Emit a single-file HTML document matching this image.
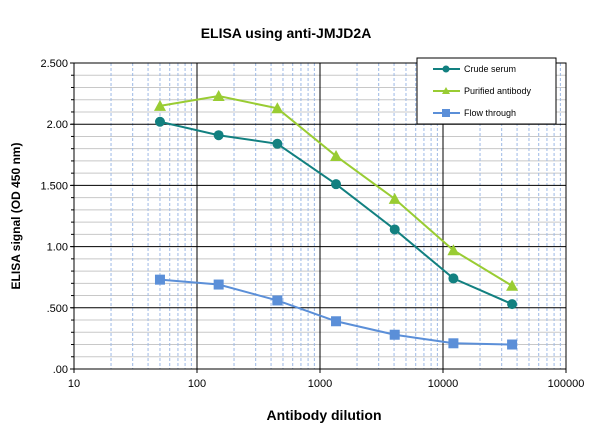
<!DOCTYPE html>
<html><head><meta charset="utf-8"><style>
body{margin:0;background:#fff;font-family:"Liberation Sans",sans-serif}
</style></head><body>
<svg width="600" height="435" xmlns="http://www.w3.org/2000/svg" font-family="Liberation Sans, sans-serif">
<g id="g"></g>
</svg>
<script>
const categories=[50,150,450,1350,4050,12150,36450];
const crude=[2.02,1.91,1.84,1.51,1.14,0.74,0.53];
const purified=[2.15,2.23,2.13,1.74,1.39,0.97,0.68];
const flow=[0.73,0.69,0.56,0.39,0.28,0.21,0.20];
const xTicks=["10","100","1000","10000","100000"];
const yTicks=[".00",".500","1.00","1.500","2.00","2.500"];
const L=74,R=566,T=63,B=369;
const xs=v=>L+(Math.log10(v)-1)/4*(R-L);
const ys=v=>B-v/2.5*(B-T);
const g=document.getElementById('g');
const NS='http://www.w3.org/2000/svg';
function el(t,a,txt){const e=document.createElementNS(NS,t);for(const k in a)e.setAttribute(k,a[k]);if(txt!==undefined)e.textContent=txt;g.appendChild(e);return e;}
for(let i=1;i<25;i++){if(i%5==0)continue;const y=ys(i*0.1);const e=el('line',{x1:L,x2:R,y1:y,y2:y,stroke:'#c8c8c8','stroke-width':1});

}
for(let d=1;d<5;d++)for(let m=2;m<10;m++){const x=xs(m*Math.pow(10,d));const e=el('line',{x1:x,x2:x,y1:T,y2:B,stroke:'#9db9e6','stroke-width':1,'stroke-dasharray':'3,2'});

}
yTicks.forEach((t,i)=>{const y=ys(i*0.5);const e=el('line',{x1:L-4,x2:R,y1:y,y2:y,stroke:'#000','stroke-width':1});


const tx=el('text',{x:L-6,y:y+4,'text-anchor':'end','font-size':11},t);

});
for(let i=1;i<25;i++){const y=ys(i*0.1);el('line',{x1:L-3,x2:L,y1:y,y2:y,stroke:'#000'});}
xTicks.forEach((t,i)=>{const x=xs(Math.pow(10,i+1));const e=el('line',{x1:x,x2:x,y1:T,y2:B+4,stroke:'#000','stroke-width':1});


const tx=el('text',{x:x,y:B+18,'text-anchor':'middle','font-size':11},t);

});
el('rect',{x:L,y:T,width:R-L,height:B-T,fill:'none',stroke:'#000'});
function series(vals,color,shape,name){
const pts=vals.map((v,i)=>xs(categories[i])+','+ys(v)).join(' ');
const pl=el('polyline',{points:pts,fill:'none',stroke:color,'stroke-width':2});


vals.forEach((v,i)=>{const x=xs(categories[i]),y=ys(v);let m;
if(shape=='c')m=el('circle',{cx:x,cy:y,r:5,fill:color});
else if(shape=='t')m=el('polygon',{points:`${x},${y-6} ${x-6},${y+5} ${x+6},${y+5}`,fill:color});
else m=el('rect',{x:x-5,y:y-5,width:10,height:10,fill:color});

});}
series(purified,'#99cc33','t','purified');
series(crude,'#128080','c','crude');
series(flow,'#5b8fd8','s','flow');
const lg=el('rect',{x:417,y:58,width:139,height:66,fill:'#fff',stroke:'#000'});


[['Crude serum','#128080','c'],['Purified antibody','#99cc33','t'],['Flow through','#5b8fd8','s']].forEach((d,i)=>{
const y=69+i*22;el('line',{x1:433,x2:460,y1:y,y2:y,stroke:d[1],'stroke-width':2});
if(d[2]=='c')el('circle',{cx:446,cy:y,r:3.5,fill:d[1]});
else if(d[2]=='t')el('polygon',{points:`446,${y-4} 442,${y+3} 450,${y+3}`,fill:d[1]});
else el('rect',{x:442,y:y-4,width:8,height:8,fill:d[1]});
const t=el('text',{x:464,y:y+3,'font-size':9},d[0]);

});
const ti=el('text',{x:286,y:38,'text-anchor':'middle','font-size':14,'font-weight':'bold'},'ELISA using anti-JMJD2A');


const xt=el('text',{x:324,y:420,'text-anchor':'middle','font-size':14,'font-weight':'bold'},'Antibody dilution');


const yt=el('text',{x:0,y:0,'text-anchor':'middle','font-size':12,'font-weight':'bold',transform:'translate(20,216) rotate(-90)'},'ELISA signal (OD 450 nm)');


</script>
</body></html>
